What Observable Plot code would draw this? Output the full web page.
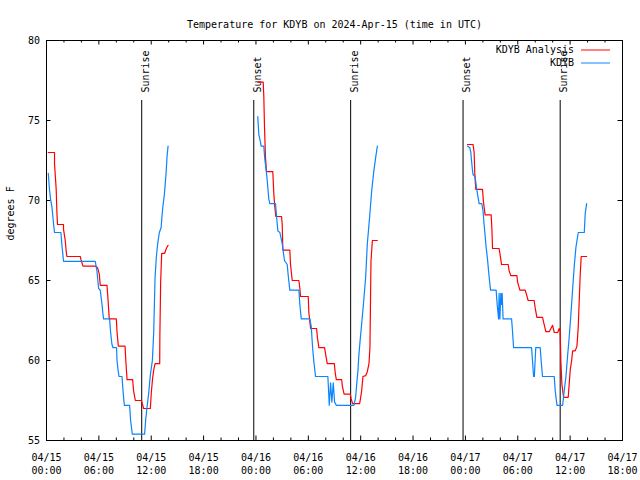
<!DOCTYPE html>
<html><head><meta charset="utf-8">
<script src="https://cdn.jsdelivr.net/npm/d3@7"></script>
<script src="https://cdn.jsdelivr.net/npm/@observablehq/plot@0.6"></script>
<style>body{margin:0;background:#fff}</style>
</head><body><div id="chart"></div>
<script>
const title = "Temperature for KDYB on 2024-Apr-15 (time in UTC)";
const yLabel = "degrees F";
const startTime = "2024-04-15T00:00:00Z";
const endTime = "2024-04-17T18:00:00Z";
const yTicks = [55, 60, 65, 70, 75, 80];
const seriesNames = ["KDYB Analysis", "KDYB"];
const seriesColors = ["#ff0000", "#0a84ff"];

// sun events, hours after 04/15 00:00 UTC
const eventNames = ["Sunrise", "Sunset", "Sunrise", "Sunset", "Sunrise"];
const eventHours = [10.91, 23.75, 34.85, 47.73, 58.86];

// KDYB Analysis (red)
const anaHours = [
  0.20,0.92,0.92,1.11,1.19,1.26,1.95,1.95,2.15,2.26,2.34,3.87,3.95,4.18,5.59,5.85,6.05,6.16,6.93,7.05,7.19,8.00,8.08,8.23,9.00,9.11,9.23,9.87,9.98,10.18,10.87,10.98,11.13,11.90,12.01,12.16,12.28,12.44,12.97,12.99,13.08,13.20,13.54,13.73,13.93,
  24.21,24.83,24.90,24.98,25.09,25.21,25.93,26.05,26.16,26.28,26.93,27.01,27.08,27.88,27.96,28.16,28.92,29.03,29.11,29.99,30.06,30.26,30.95,31.03,31.21,31.86,31.98,32.17,32.98,33.09,33.21,33.82,33.90,34.10,34.81,34.91,35.08,35.88,36.00,36.11,36.26,36.57,36.76,36.95,37.06,37.18,37.34,37.91,
  48.24,48.88,49.00,49.08,49.19,49.96,50.07,50.26,50.95,51.03,51.11,51.86,51.98,52.14,52.90,53.01,53.21,53.90,53.98,54.24,54.85,55.01,55.19,55.88,55.99,56.19,56.84,56.96,57.22,57.60,57.80,57.99,58.18,58.57,58.75,58.86,58.94,59.06,59.25,59.78,60.01,60.17,60.29,60.58,60.78,60.93,61.04,61.16,61.27,61.89
];
const anaTemps = [
  73.0,73.0,72.3,70.7,69.3,68.5,68.5,68.2,67.5,66.8,66.5,66.5,66.3,65.9,65.9,65.8,65.4,64.7,64.7,63.8,62.6,62.6,61.8,60.9,60.9,59.8,58.8,58.8,58.1,57.5,57.5,57.3,57.0,57.0,58.0,58.9,59.4,59.8,59.8,61.5,64.9,66.7,66.7,67.0,67.2,
  77.4,77.4,76.5,74.6,72.7,71.8,71.8,70.4,69.6,69.0,69.0,68.5,66.9,66.9,66.0,65.0,65.0,64.5,64.0,64.0,63.0,62.0,62.0,61.5,60.8,60.8,60.4,59.8,59.8,59.2,58.8,58.8,58.4,57.9,57.9,57.6,57.3,57.3,57.7,58.1,59.0,59.05,59.3,59.8,60.8,66.2,67.5,67.5,
  73.5,73.5,73.0,71.6,70.7,70.7,69.9,69.1,69.1,68.3,67.0,67.0,66.6,66.0,66.0,65.6,65.3,65.3,64.9,64.4,64.4,64.1,63.75,63.75,63.3,62.7,62.7,62.4,61.8,61.8,62.0,62.2,61.75,61.75,62.0,61.8,59.9,58.5,57.7,57.7,59.4,60.0,60.6,60.6,60.9,62.1,63.75,65.4,66.5,66.5
];

// KDYB observations (blue)
const obsHours = [
  0.20,0.34,0.46,0.62,0.73,0.85,0.92,1.65,1.77,1.88,1.95,5.59,5.78,5.97,6.16,6.36,6.47,6.54,7.23,7.34,7.50,7.62,8.03,8.08,8.20,8.31,8.65,8.77,8.92,9.52,9.64,9.83,11.24,11.36,11.52,11.70,11.90,12.13,12.28,12.44,12.59,12.74,12.93,13.13,13.31,13.51,13.70,13.82,13.93,
  24.21,24.33,24.52,24.60,24.90,25.01,25.17,25.29,25.47,25.59,26.24,26.36,26.51,26.74,27.01,27.13,27.27,27.58,27.70,27.88,28.92,29.03,29.19,30.18,30.34,30.49,30.64,30.83,32.24,32.40,32.55,32.70,32.86,33.01,33.21,35.23,35.42,35.54,35.69,35.80,35.92,36.08,36.31,36.57,36.76,37.03,37.26,37.52,37.72,37.91,
  48.24,48.50,48.62,48.70,48.81,48.88,49.11,49.27,49.42,49.57,49.88,50.03,50.14,50.26,50.37,50.53,50.65,50.76,50.88,51.52,51.64,51.75,51.80,51.86,51.95,52.06,52.14,52.21,52.32,53.29,53.40,53.52,55.58,55.70,55.81,55.90,56.06,56.57,56.69,56.84,58.18,58.29,58.49,59.14,59.32,59.52,59.71,59.90,60.09,60.29,60.47,60.67,60.93,61.62,61.73,61.89
];
const obsTemps = [
  71.7,70.7,70.1,69.6,69.0,68.3,68.0,68.0,67.2,66.6,66.2,66.2,65.6,64.5,64.4,63.5,62.9,62.6,62.6,61.8,61.0,60.8,60.8,60.0,59.4,59.0,59.0,58.1,57.2,57.2,56.25,55.4,55.4,56.25,57.1,57.9,59.1,60.0,61.7,65.2,66.5,67.3,68.0,68.3,69.5,70.4,71.7,72.8,73.4,
  75.25,74.1,73.65,73.4,73.4,72.6,71.9,71.25,70.1,69.8,69.8,69.0,68.1,68.0,67.3,66.8,66.25,66.0,65.3,64.4,64.4,63.5,62.6,62.6,62.1,60.8,59.9,59.0,59.0,57.2,58.6,57.4,58.6,57.4,57.2,57.2,57.7,58.5,59.4,60.4,61.15,62.1,63.5,65.2,67.3,69.0,70.6,71.9,72.7,73.4,
  73.4,73.3,73.0,72.5,71.9,71.6,71.5,70.8,70.3,69.8,69.8,69.3,68.5,67.8,67.1,66.35,65.6,65.0,64.4,64.4,63.5,62.9,62.6,64.2,62.6,64.2,63.5,64.2,62.6,62.6,61.8,60.8,60.8,59.9,59.0,59.0,60.8,60.8,59.9,59.0,59.0,58.1,57.2,57.2,58.1,59.0,60.3,61.5,62.9,64.5,65.9,67.1,68.0,68.0,69.2,69.8
];

const t0 = new Date(startTime);
const tEnd = new Date(endTime);
const toDate = h => new Date(+t0 + h * 3600e3);
function build(hours, temps, name) {
  let seg = 0;
  return hours.map((h, i) => {
    if (i > 0 && h - hours[i - 1] > 6) seg++;
    return {time: toDate(h), temp: temps[i], series: name, seg: name + seg};
  });
}
const data = [
  ...build(anaHours, anaTemps, seriesNames[0]),
  ...build(obsHours, obsTemps, seriesNames[1])
];
const events = eventNames.map((n, i) => ({name: n, time: toDate(eventHours[i])}));

const W = 640, H = 480, mt = 40, mb = 40, ml = 46, mr = 18;
const innerW = W - ml - mr, innerH = H - mt - mb;
const majorTicks = d3.utcHour.every(6).range(t0, new Date(+tEnd + 1));
const minorTicks = d3.utcHour.every(2).range(t0, new Date(+tEnd + 1)).filter(d => d.getUTCHours() % 6 !== 0);
const FONT = "'DejaVu Sans Mono', monospace";

const svg = Plot.plot({
  width: W, height: H,
  marginTop: mt, marginBottom: mb, marginLeft: ml, marginRight: mr,
  style: {fontFamily: FONT, fontSize: "10px", background: "#fff", color: "#000"},
  x: {type: "utc", domain: [t0, tEnd]},
  y: {domain: [55, 80]},
  color: {domain: seriesNames, range: seriesColors},
  marks: [
    Plot.axisX(majorTicks, {tickSize: 0, tickPadding: 10.5, tickFormat: d3.utcFormat("%m/%d\n%H:%M"), lineHeight: 1.34, label: null}),
    Plot.axisY(yTicks, {tickSize: 0, tickPadding: 6.5, label: null}),
    Plot.ruleX(majorTicks, {x: d => d, stroke: "#000", insetTop: innerH - 4.5}),
    Plot.ruleX(majorTicks, {x: d => d, stroke: "#000", insetBottom: innerH - 4.5}),
    Plot.ruleX(minorTicks, {x: d => d, stroke: "#000", insetTop: innerH - 2.5}),
    Plot.ruleX(minorTicks, {x: d => d, stroke: "#000", insetBottom: innerH - 2.5}),
    Plot.ruleY(yTicks, {y: d => d, stroke: "#000", insetRight: innerW - 4.5}),
    Plot.ruleY(yTicks, {y: d => d, stroke: "#000", insetLeft: innerW - 4.5}),
    Plot.ruleX(events, {x: "time", stroke: "#000", insetTop: 60}),
    Plot.text(events, {x: "time", text: "name", frameAnchor: "top", dy: 52, rotate: -90, textAnchor: "start", fill: "#000"}),
    Plot.line(data, {x: "time", y: "temp", z: "seg", stroke: "series", strokeWidth: 1.2}),
    Plot.frame({stroke: "#000"}),
    Plot.text([title], {frameAnchor: "top", dy: -20, fill: "#000"}),
    Plot.text([yLabel], {frameAnchor: "left", dx: -36, rotate: -90, fill: "#000"})
  ]
});

// legend (top right, inside frame)
const lg = d3.select(svg).append("g").attr("font-family", FONT).attr("font-size", 10);
const xr = W - mr;
seriesNames.forEach((name, i) => {
  const y = mt + 9.5 + i * 13;
  lg.append("text").attr("x", xr - 48).attr("y", y).attr("dy", "0.32em").attr("text-anchor", "end").attr("fill", "#000").text(name);
  lg.append("line").attr("x1", xr - 41).attr("x2", xr - 12).attr("y1", y + 0.5).attr("y2", y + 0.5).attr("stroke", seriesColors[i]);
});
document.getElementById("chart").appendChild(svg);
</script>
</body></html>
